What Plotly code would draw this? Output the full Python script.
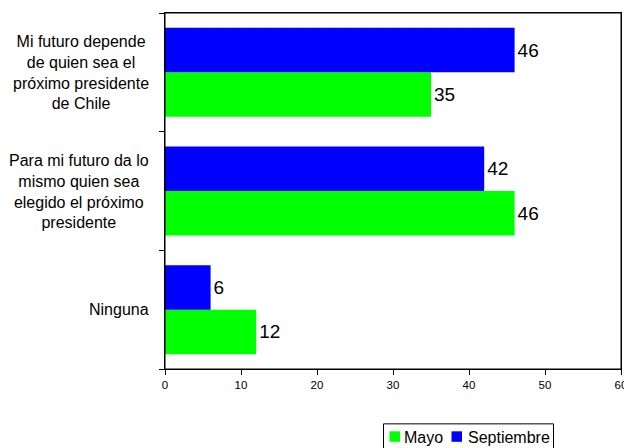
import plotly.graph_objects as go

categories = [
    "Mi futuro depende<br>de quien sea el<br>próximo presidente<br>de Chile",
    "Para mi futuro da lo<br>mismo quien sea<br>elegido el próximo<br>presidente",
    "Ninguna",
]
series_names = ["Mayo", "Septiembre"]
series_colors = ["#00FF00", "#0000FF"]
mayo = [35, 46, 12]
septiembre = [46, 42, 6]
x_ticks = [0, 10, 20, 30, 40, 50, 60]

order = categories[::-1]
font = "Liberation Sans, Arial, sans-serif"

W, H = 624, 448
L, R, T, B = 165, 3, 12.5, 78.5
PW, PH = W - L - R, H - T - B


def px(x):
    return (x - L) / PW


def py(y):
    return (H - B - y) / PH


fig = go.Figure()
for name, vals, col in zip(series_names, [mayo, septiembre], series_colors):
    fig.add_trace(go.Bar(
        y=categories, x=vals, orientation="h", name=name,
        marker=dict(color=col, line=dict(width=0)),
        text=vals, textposition="outside", cliponaxis=False,
        textfont=dict(size=19, color="black", family=font),
    ))

for c in categories:
    fig.add_annotation(
        x=0, xref="paper", y=c, yref="y", text=c, showarrow=False,
        xanchor="right", align="center", xshift=-14,
        font=dict(size=16, color="black", family=font),
    )

# legend box drawn manually (bottom, partly cut off like the reference)
fig.add_shape(type="rect", xref="paper", yref="paper",
              x0=px(383.5), x1=px(553.5), y0=py(424.5), y1=py(470),
              line=dict(color="black", width=1), fillcolor="white")
legend_items = [(389.5, 403, 0), (451.5, 466.5, 1)]
for sx, tx, i in legend_items:
    fig.add_shape(type="rect", xref="paper", yref="paper",
                  x0=px(sx), x1=px(sx + 10.5), y0=py(432), y1=py(442.5),
                  line=dict(width=0), fillcolor=series_colors[i])
    fig.add_annotation(x=px(tx), y=py(438), xref="paper", yref="paper",
                       text=series_names[i], showarrow=False,
                       xanchor="left", yanchor="middle", borderpad=0,
                       font=dict(size=16, color="black", family=font))

# plot-area frame
fig.add_shape(type="rect", xref="paper", yref="paper", x0=0, x1=1, y0=0, y1=1,
              line=dict(color="black", width=1), layer="above")

fig.update_layout(
    width=W, height=H,
    margin=dict(l=L, r=R, t=T, b=B, autoexpand=False),
    paper_bgcolor="white", plot_bgcolor="white",
    barmode="group", bargap=0.25, bargroupgap=0,
    font=dict(family=font, color="black"),
    showlegend=False,
)
fig.update_xaxes(
    range=[0, 60], tickvals=x_ticks, showgrid=False, zeroline=False,
    showline=True, linecolor="black", linewidth=1, mirror=True,
    ticks="outside", ticklen=5, tickcolor="black",
    ticklabeloverflow="allow",
    tickfont=dict(size=11.5, family=font, color="black"),
)
fig.update_yaxes(
    categoryorder="array", categoryarray=order, showgrid=False,
    showline=True, linecolor="black", linewidth=1, mirror=True,
    ticks="outside", ticklen=5, tickcolor="black", tickson="boundaries",
    showticklabels=False,
)

fig.write_html(
    "out.html",
    config={"displayModeBar": False},
    post_script="document.body.style.margin='0';document.body.style.overflow='hidden';",
)
